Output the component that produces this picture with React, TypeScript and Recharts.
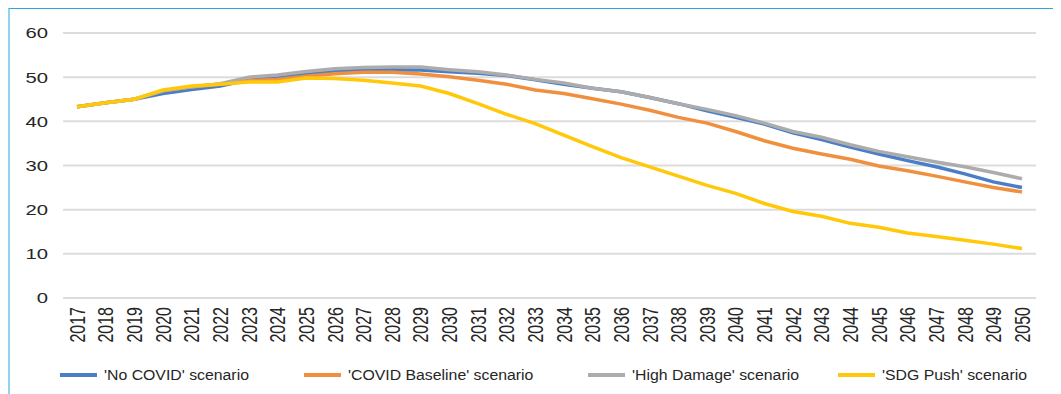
import { LineChart, Line, XAxis, YAxis, CartesianGrid, Legend } from "recharts";

const years = [
  "2017", "2018", "2019", "2020", "2021", "2022", "2023", "2024", "2025", "2026", "2027", "2028",
  "2029", "2030", "2031", "2032", "2033", "2034", "2035", "2036", "2037", "2038", "2039", "2040",
  "2041", "2042", "2043", "2044", "2045", "2046", "2047", "2048", "2049", "2050"
];

const noCovid = [
  43.3, 44.2, 45.0, 46.3, 47.2, 48.0, 49.4, 49.8, 50.6, 51.2, 51.6, 51.7,
  51.6, 51.2, 50.9, 50.4, 49.4, 48.4, 47.5, 46.7, 45.4, 44.0, 42.4, 40.9,
  39.4, 37.4, 35.9, 34.2, 32.6, 31.1, 29.7, 28.1, 26.3, 25.0
];

const covidBaseline = [
  43.3, 44.2, 45.0, 46.9, 47.8, 48.4, 49.2, 49.5, 50.2, 50.8, 51.1, 51.1,
  50.7, 50.1, 49.3, 48.4, 47.1, 46.3, 45.1, 43.9, 42.5, 40.9, 39.6, 37.7,
  35.6, 33.9, 32.6, 31.4, 29.9, 28.8, 27.6, 26.3, 25.0, 24.0
];

const highDamage = [
  43.3, 44.2, 45.0, 46.9, 47.8, 48.5, 50.0, 50.5, 51.3, 51.9, 52.2, 52.3,
  52.3, 51.7, 51.2, 50.5, 49.5, 48.7, 47.5, 46.7, 45.4, 44.0, 42.7, 41.3,
  39.6, 37.7, 36.4, 34.7, 33.2, 32.0, 30.8, 29.7, 28.4, 27.0
];

const sdgPush = [
  43.3, 44.2, 45.0, 47.1, 48.0, 48.4, 48.9, 48.9, 49.8, 49.7, 49.3, 48.7,
  48.0, 46.3, 44.0, 41.6, 39.5, 36.9, 34.3, 31.8, 29.7, 27.6, 25.5, 23.7,
  21.4, 19.6, 18.5, 16.9, 16.0, 14.7, 13.9, 13.1, 12.2, 11.2
];

const yTicks = [0, 10, 20, 30, 40, 50, 60];

const series = [
  { key: "noCovid", name: "'No COVID' scenario", color: "#4a7ec6" },
  { key: "covidBaseline", name: "'COVID Baseline' scenario", color: "#f0903f" },
  { key: "highDamage", name: "'High Damage' scenario", color: "#acacac" },
  { key: "sdgPush", name: "'SDG Push' scenario", color: "#ffc90a" }
];

const data = years.map((year, i) => ({
  year,
  noCovid: noCovid[i],
  covidBaseline: covidBaseline[i],
  highDamage: highDamage[i],
  sdgPush: sdgPush[i]
}));

const FONT = "'Liberation Sans', Arial, sans-serif";
// the source image is stretched sideways, so text gets a horizontal scale
const STRETCH = 1.35;

const YTick = ({ x, y, payload }: any) => (
  <text
    transform={`translate(${x}, ${y}) scale(${STRETCH}, 1)`}
    textAnchor="end"
    dy="0.36em"
    fontSize={15}
    fontFamily={FONT}
    fill="#262626"
  >
    {payload.value}
  </text>
);

const XTick = ({ x, y, payload }: any) => (
  <text
    transform={`translate(${x}, ${y + 9}) scale(${STRETCH}, 1) rotate(-90)`}
    textAnchor="end"
    dy="0.36em"
    fontSize={16}
    fontFamily={FONT}
    fill="#262626"
  >
    {payload.value}
  </text>
);

const legendLeft = [50, 294, 578, 828];

const LegendContent = () => (
  <div style={{ position: "relative", width: 1051, height: 30 }}>
    {series.map((s, i) => (
      <div
        key={s.key}
        style={{
          position: "absolute",
          left: legendLeft[i],
          top: 11,
          display: "flex",
          alignItems: "center",
          transform: "translateY(-50%)"
        }}
      >
        <span style={{ display: "inline-block", width: 37, height: 4, background: s.color }} />
        <span
          style={{
            display: "inline-block",
            marginLeft: 7,
            fontSize: 14,
            fontFamily: FONT,
            color: "#262626",
            whiteSpace: "nowrap",
            transform: "scaleX(1.13)",
            transformOrigin: "left center"
          }}
        >
          {s.name}
        </span>
      </div>
    ))}
  </div>
);

export default function App() {
  return (
    <div
      style={{
        width: 1053,
        height: 386,
        boxSizing: "border-box",
        borderTop: "1px solid #2aa7df",
        borderLeft: "2px solid #8fd3f0",
        background: "#fff"
      }}
    >
      <LineChart
        width={1051}
        height={385}
        data={data}
        margin={{ top: 24, right: 25, left: 0, bottom: 0 }}
      >
        <CartesianGrid vertical={false} stroke="#dcdcdc" strokeWidth={2} />
        <XAxis
          dataKey="year"
          axisLine={false}
          tickLine={false}
          tickSize={0}
          tickMargin={0}
          height={66}
          interval={0}
          padding={{ left: 14, right: 14 }}
          tick={<XTick />}
        />
        <YAxis
          domain={[0, 60]}
          ticks={yTicks}
          width={53}
          axisLine={false}
          tickLine={false}
          tickSize={0}
          tickMargin={15}
          tick={<YTick />}
        />
        <Legend verticalAlign="bottom" height={30} content={<LegendContent />} />
        {series.map((s) => (
          <Line
            key={s.key}
            type="linear"
            dataKey={s.key}
            name={s.name}
            stroke={s.color}
            strokeWidth={3.5}
            dot={false}
            isAnimationActive={false}
          />
        ))}
      </LineChart>
    </div>
  );
}
